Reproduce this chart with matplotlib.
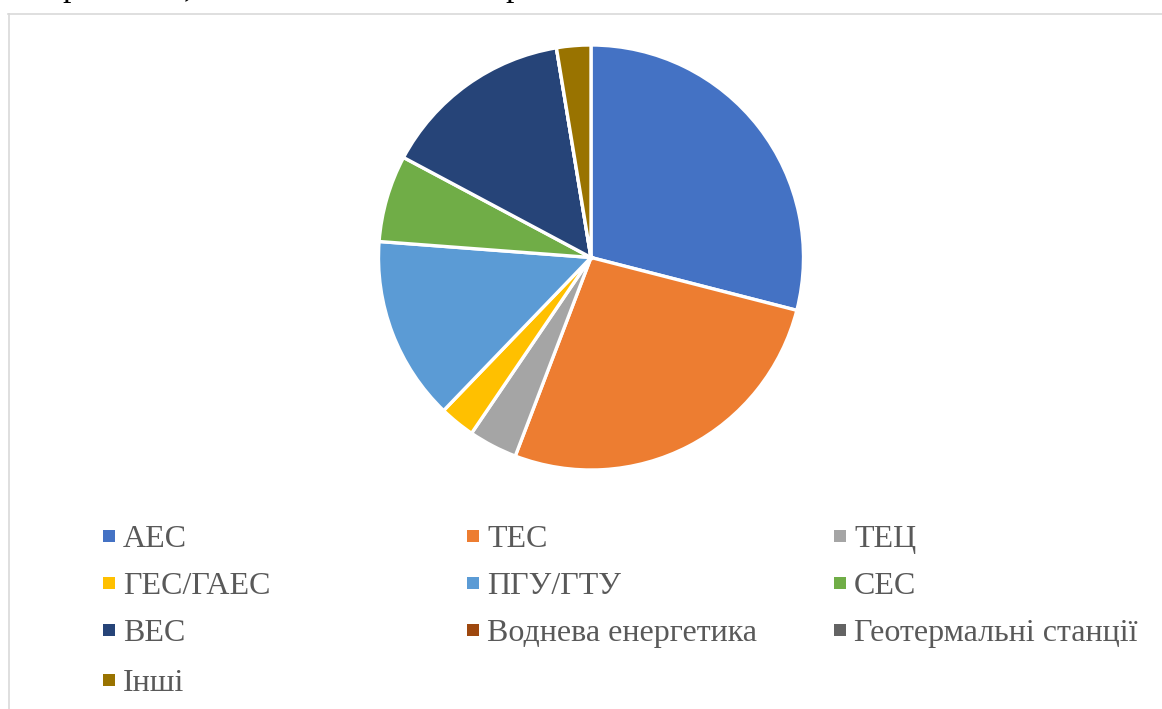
import matplotlib.pyplot as plt
from matplotlib.lines import Line2D
from matplotlib.patches import Rectangle

# shares of installed capacity, %
labels = ["АЕС", "ТЕС", "ТЕЦ", "ГЕС/ГАЕС", "ПГУ/ГТУ", "СЕС", "ВЕС",
          "Воднева енергетика", "Геотермальні станції", "Інші"]
values = [29.0, 26.8, 3.7, 2.7, 14.0, 6.6, 14.6, 0.0, 0.0, 2.6]
colors = ["#4472C4", "#ED7D31", "#A5A5A5", "#FFC000", "#5B9BD5", "#70AD47",
          "#264478", "#9E480E", "#636363", "#997300"]

W, H = 1162, 709
fig = plt.figure(figsize=(W / 100, H / 100), dpi=100)

# chart frame (only top and left edges visible in the crop)
fig.add_artist(Line2D([8 / W, 1], [1 - 13.5 / H, 1 - 13.5 / H], color="#D9D9D9", lw=1.2))
fig.add_artist(Line2D([8.5 / W, 8.5 / W], [0, 1 - 13.5 / H], color="#D9D9D9", lw=1.2))

# fragments of the text line above the chart, cut off by the image edge
for x, s in [(62, "р"), (184, ","), (505, "р")]:
    fig.text(x / W, 1 + 3.5 / H, s, fontsize=24, family="Liberation Serif",
             color="black", va="baseline", ha="left")

# pie
cx, cy, r = 591, 257.5, 212.5
ax = fig.add_axes([(cx - r) / W, (H - cy - r) / H, 2 * r / W, 2 * r / H])
ax.pie(values, colors=colors, startangle=90, counterclock=False,
       wedgeprops=dict(edgecolor="white", linewidth=2.4))
ax.set_xlim(-1, 1)
ax.set_ylim(-1, 1)
ax.axis("off")

# legend, filled row by row in three columns
col_x = [103, 467, 834]
row_y = [536, 583, 630, 680]
sq = 12
for i, (lab, c) in enumerate(zip(labels, colors)):
    x = col_x[i % 3]
    y = row_y[i // 3]
    fig.add_artist(Rectangle((x / W, (H - y - sq / 2) / H), sq / W, sq / H,
                             facecolor=c, edgecolor="none", transform=fig.transFigure))
    fig.text((x + sq + 8) / W, (H - y) / H, lab, fontsize=23,
             family="Liberation Serif", color="#595959", va="center_baseline", ha="left")

fig.savefig("out.png", dpi=100)
